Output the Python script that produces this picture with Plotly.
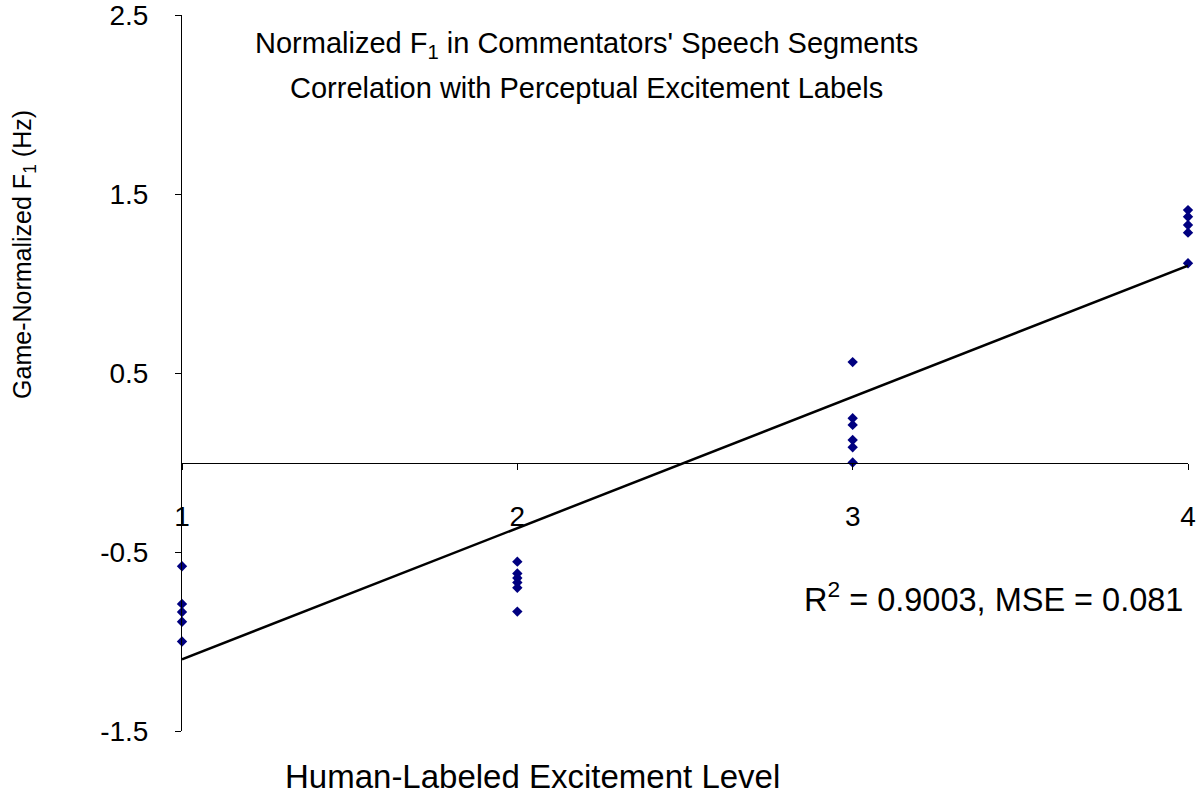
import plotly.graph_objects as go

# Data
level = [1, 1, 1, 1, 1,
         2, 2, 2, 2, 2, 2,
         3, 3, 3, 3, 3, 3,
         4, 4, 4, 4, 4]
f1_norm = [-0.58, -0.79, -0.835, -0.89, -1.0,
           -0.554, -0.62, -0.645, -0.67, -0.70, -0.833,
           0.561, 0.247, 0.21, 0.126, 0.085, 0.0,
           1.41, 1.373, 1.327, 1.284, 1.113]

trend_x = [1, 4]
trend_y = [-1.1, 1.1]

y_ticks = [2.5, 1.5, 0.5, -0.5, -1.5]
y_ticktext = ["2.5", "1.5", "0.5", "-0.5", "-1.5"]
x_ticks = [1, 2, 3, 4]

FONT = "Liberation Sans, Arial, sans-serif"

fig = go.Figure()

fig.add_trace(go.Scatter(
    x=level, y=f1_norm, mode="markers",
    marker=dict(symbol="diamond", size=8, color="#000080"),
    cliponaxis=False, showlegend=False,
))

fig.add_trace(go.Scatter(
    x=trend_x, y=trend_y, mode="lines",
    line=dict(color="black", width=2.5),
    cliponaxis=False, showlegend=False,
))

fig.update_layout(
    width=1200, height=801,
    margin=dict(l=182, r=12, t=15, b=70),
    plot_bgcolor="white", paper_bgcolor="white",
    font=dict(family=FONT, size=28, color="black"),
    showlegend=False,
)

fig.update_xaxes(
    range=[1, 4], tickvals=x_ticks,
    showgrid=False, zeroline=False, automargin=False,
    showline=True, linecolor="black", linewidth=1,
    ticks="outside", ticklen=6, tickcolor="black",
    anchor="free", position=0.375,
    ticklabelstandoff=23, ticklabeloverflow="allow",
    tickfont=dict(size=28),
)

fig.update_yaxes(
    range=[-1.5, 2.5], tickvals=y_ticks, ticktext=y_ticktext,
    showgrid=False, zeroline=False, automargin=False,
    showline=True, linecolor="black", linewidth=1,
    ticks="outside", ticklen=6, tickcolor="black",
    ticklabelstandoff=21, ticklabeloverflow="allow",
    tickfont=dict(size=28),
)

# Titles and labels
fig.add_annotation(
    text="Normalized F<sub>1</sub> in Commentators' Speech Segments",
    xref="paper", yref="paper", x=0.4016, y=0.958, xanchor="center", yanchor="middle",
    showarrow=False, font=dict(size=29),
)
fig.add_annotation(
    text="Correlation with Perceptual Excitement Labels",
    xref="paper", yref="paper", x=0.4016, y=0.898, xanchor="center", yanchor="middle",
    showarrow=False, font=dict(size=29),
)
fig.add_annotation(
    text="Human-Labeled Excitement Level",
    xref="paper", yref="paper", x=0.348, y=-0.063, xanchor="center", yanchor="middle",
    showarrow=False, font=dict(size=33),
)
fig.add_annotation(
    text="Game-Normalized F<sub>1</sub> (Hz)",
    xref="paper", yref="paper", x=-0.157, y=0.665, xanchor="center", yanchor="middle",
    textangle=-90, showarrow=False, font=dict(size=25),
)
fig.add_annotation(
    text="R<sup>2</sup> = 0.9003, MSE = 0.081",
    xref="paper", yref="paper", x=0.997, y=0.187, xanchor="right", yanchor="middle",
    showarrow=False, font=dict(size=32.5),
)

# drop the default page margin so the figure sits at the window's corner
fig.write_html("out.html", config={"displayModeBar": False},
               post_script="document.body.style.margin='0';")
